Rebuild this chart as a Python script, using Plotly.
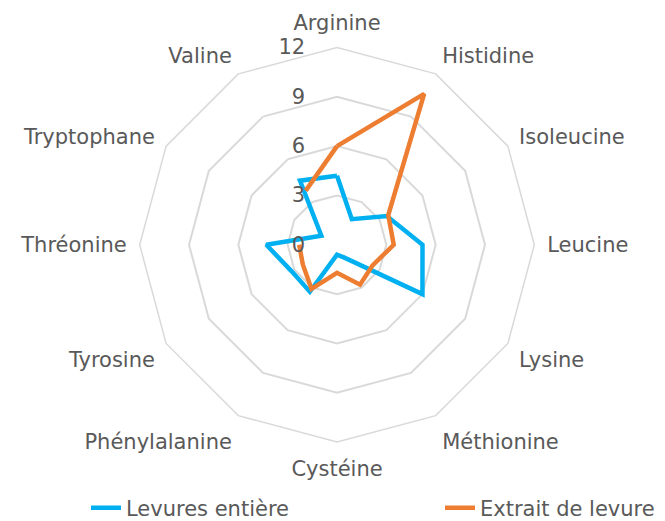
import plotly.graph_objects as go

categories = ["Arginine", "Histidine", "Isoleucine", "Leucine", "Lysine", "Méthionine",
              "Cystéine", "Phénylalanine", "Tyrosine", "Thréonine", "Tryptophane", "Valine"]
levures_entiere = [4.2, 1.8, 3.5, 5.2, 6.0, 0.9, 0.6, 3.3, 3.2, 4.3, 1.1, 4.5]
extrait_levure = [6.0, 10.6, 3.6, 3.45, 2.5, 2.8, 1.7, 3.1, 2.4, 2.3, None, 3.8]
radial_ticks = [0, 3, 6, 9, 12]

FONT = "DejaVu Sans"
GREY = "#595959"
GRID = "#d9d9d9"
W, H = 665, 521
CX, CY, R = 329, 240, 200   # polar domain centre / half-size in px (compensated)

fig = go.Figure()
fig.add_trace(go.Scatterpolar(
    r=levures_entiere + [levures_entiere[0]],
    theta=categories + [categories[0]],
    mode="lines", name="Levures entière", legend="legend",
    line=dict(color="#00b0f0", width=4.5),
))
fig.add_trace(go.Scatterpolar(
    r=extrait_levure + [extrait_levure[0]],
    theta=categories + [categories[0]],
    mode="lines", name="Extrait de levure", connectgaps=False, legend="legend2",
    line=dict(color="#ed7d31", width=4.5),
))

legend_common = dict(
    orientation="h", yanchor="middle", y=(H - 507) / H, xanchor="left",
    font=dict(family=FONT, size=21, color=GREY), bgcolor="rgba(0,0,0,0)",
)

fig.update_layout(
    width=W, height=H,
    margin=dict(l=0, r=0, t=0, b=0),
    paper_bgcolor="white", plot_bgcolor="white",
    font=dict(family=FONT, color=GREY, size=21),
    polar=dict(
        domain=dict(x=[(CX - R) / W, (CX + R) / W],
                    y=[(H - CY - R) / H, (H - CY + R) / H]),
        bgcolor="white",
        gridshape="linear",
        angularaxis=dict(
            rotation=90, direction="clockwise",
            showgrid=False, showline=True, linecolor=GRID, linewidth=1.5,
            ticks="outside", ticklen=8, tickcolor="rgba(0,0,0,0)",
            tickfont=dict(family=FONT, size=21, color=GREY),
        ),
        radialaxis=dict(
            range=[0, 12], tickvals=radial_ticks, ticktext=[str(v) for v in radial_ticks],
            angle=90, side="counterclockwise", tickangle=90,
            showline=False, showgrid=True, gridcolor=GRID, gridwidth=1.5,
            ticks="outside", ticklen=24, tickcolor="rgba(0,0,0,0)",
            tickfont=dict(family=FONT, size=21, color=GREY),
        ),
    ),
    showlegend=True,
    legend=dict(x=78 / W, **legend_common),
    legend2=dict(x=432 / W, **legend_common),
)

fig.write_html("out.html")
